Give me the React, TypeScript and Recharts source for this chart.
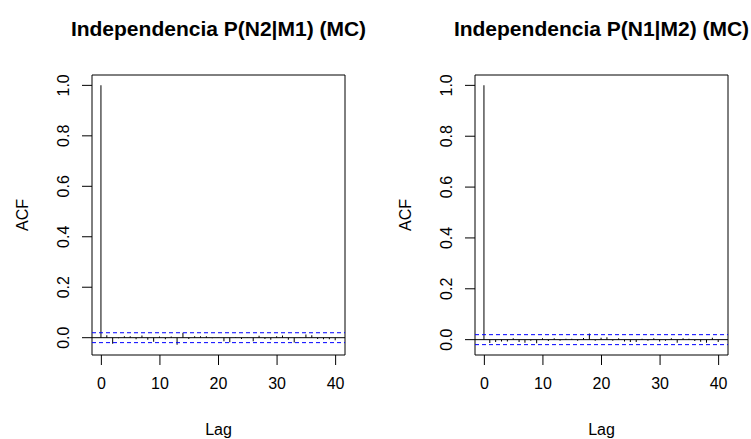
import React from 'react';
import { ComposedChart, Bar, XAxis, YAxis, ReferenceLine, ReferenceArea } from 'recharts';

const lags = [0, 1, 2, 3, 4, 5, 6, 7, 8, 9, 10, 11, 12, 13, 14, 15, 16, 17, 18, 19, 20, 21, 22, 23, 24, 25, 26, 27, 28, 29, 30, 31, 32, 33, 34, 35, 36, 37, 38, 39, 40];

const acfN2M1 = [1.0, 0.010, -0.024, -0.002, 0.006, 0.006, -0.006, 0.009, -0.008, -0.016, 0.005, -0.006, 0.005, -0.0275, 0.02, -0.005, 0.006, 0.006, 0.006, -0.002, 0.001, -0.014, -0.018, 0.002, -0.005, 0.001, -0.014, 0.008, -0.005, -0.008, 0.006, 0.009, -0.008, -0.019, 0.001, 0.013, 0.010, -0.005, -0.006, -0.006, -0.010];

const acfN1M2 = [1.0, -0.013, -0.009, -0.007, -0.007, 0.005, -0.009, -0.012, -0.004, -0.014, 0.005, -0.005, 0.005, -0.004, 0.004, 0.004, -0.004, 0.006, 0.024, -0.004, 0.007, 0.009, -0.004, 0.005, -0.007, -0.009, -0.009, 0.004, -0.004, 0.005, -0.007, -0.004, 0.005, -0.012, 0.005, 0.004, -0.005, -0.008, -0.012, 0.007, -0.009];

const ciBound = 0.0196;

const xTicks = [0, 10, 20, 30, 40];
const yTicks = [0, 0.2, 0.4, 0.6, 0.8, 1.0];
const yTickLabels = ['0.0', '0.2', '0.4', '0.6', '0.8', '1.0'];

const titles = ['Independencia P(N2|M1) (MC)', 'Independencia P(N1|M2) (MC)'];
const xLabel = 'Lag';
const yLabel = 'ACF';

const FONT = '"Liberation Sans", Arial, Helvetica, sans-serif';

const YTick = (props: any) => {
  const { x, y, payload } = props;
  const idx = yTicks.indexOf(payload.value);
  const label = idx >= 0 ? yTickLabels[idx] : String(payload.value);
  return (
    <text
      x={x}
      y={y}
      transform={`rotate(-90, ${x}, ${y})`}
      textAnchor="middle"
      fontSize={16}
      fontFamily={FONT}
      fill="#000"
    >
      {label}
    </text>
  );
};

const AcfLabel = (props: any) => {
  const vb = props.viewBox || {};
  const x = (vb.x || 0) + 28;
  const y = (vb.y || 0) + (vb.height || 0) / 2;
  return (
    <text x={x} y={y} transform={`rotate(-90, ${x}, ${y})`} textAnchor="middle" fontSize={16} fontFamily={FONT} fill="#000">
      {yLabel}
    </text>
  );
};

const LagLabel = (props: any) => {
  const vb = props.viewBox || {};
  const x = (vb.x || 0) + (vb.width || 0) / 2;
  const y = (vb.y || 0) + 80;
  return (
    <text x={x} y={y} textAnchor="middle" fontSize={16} fontFamily={FONT} fill="#000">
      {xLabel}
    </text>
  );
};

function Panel({ title, values, left }: { title: string; values: number[]; left: number }) {
  const data = lags.map((lag, i) => ({ lag, acf: values[i] }));
  const lo = Math.min(-ciBound, ...values);
  const hi = Math.max(ciBound, ...values);
  const py = 0.04 * (hi - lo);
  const yDomain: [number, number] = [lo - py, hi + py];
  const xlo = Math.min(...lags);
  const xhi = Math.max(...lags);
  const px = 0.04 * (xhi - xlo);
  const xDomain: [number, number] = [xlo - px, xhi + px];

  return (
    <div style={{ position: 'absolute', left, top: 0, width: 368, height: 439 }}>
      <svg width={368} height={60} style={{ position: 'absolute', left: 0, top: 0 }}>
        <text x={92 + 253 / 2} y={36} textAnchor="middle" fontSize={21} fontWeight="bold" fontFamily={FONT} fill="#000">
          {title}
        </text>
      </svg>
      <div style={{ position: 'absolute', left: 0, top: 0 }}>
        <ComposedChart width={368} height={439} data={data} margin={{ top: 75, right: 23, bottom: 0, left: 0 }}>
          <XAxis
            dataKey="lag"
            type="number"
            domain={xDomain}
            ticks={xTicks}
            interval={0}
            allowDataOverflow
            axisLine={false}
            tickLine={{ stroke: '#000' }}
            tickSize={10}
            tickMargin={13}
            height={84}
            tick={{ fill: '#000', fontSize: 16, fontFamily: FONT }}
            label={{ content: LagLabel }}
          />
          <YAxis
            type="number"
            domain={yDomain}
            ticks={yTicks}
            interval={0}
            allowDataOverflow
            axisLine={false}
            tickLine={{ stroke: '#000' }}
            tickSize={10}
            tickMargin={13}
            width={92}
            tick={<YTick />}
            label={{ content: AcfLabel }}
          />
          <ReferenceLine y={0} stroke="#000" strokeWidth={1} />
          <ReferenceLine y={ciBound} stroke="#0000ff" strokeDasharray="4 3" strokeWidth={1} />
          <ReferenceLine y={-ciBound} stroke="#0000ff" strokeDasharray="4 3" strokeWidth={1} />
          <Bar dataKey="acf" fill="#000" barSize={1} isAnimationActive={false} />
          <ReferenceArea x1={xDomain[0]} x2={xDomain[1]} y1={yDomain[0]} y2={yDomain[1]} fill="none" fillOpacity={0} stroke="#000" strokeWidth={1} />
        </ComposedChart>
      </div>
    </div>
  );
}

export default function App() {
  return (
    <div style={{ position: 'absolute', left: 0, top: 0, width: 751, height: 439, background: '#fff' }}>
      <Panel title={titles[0]} values={acfN2M1} left={0} />
      <Panel title={titles[1]} values={acfN1M2} left={383} />
    </div>
  );
}
